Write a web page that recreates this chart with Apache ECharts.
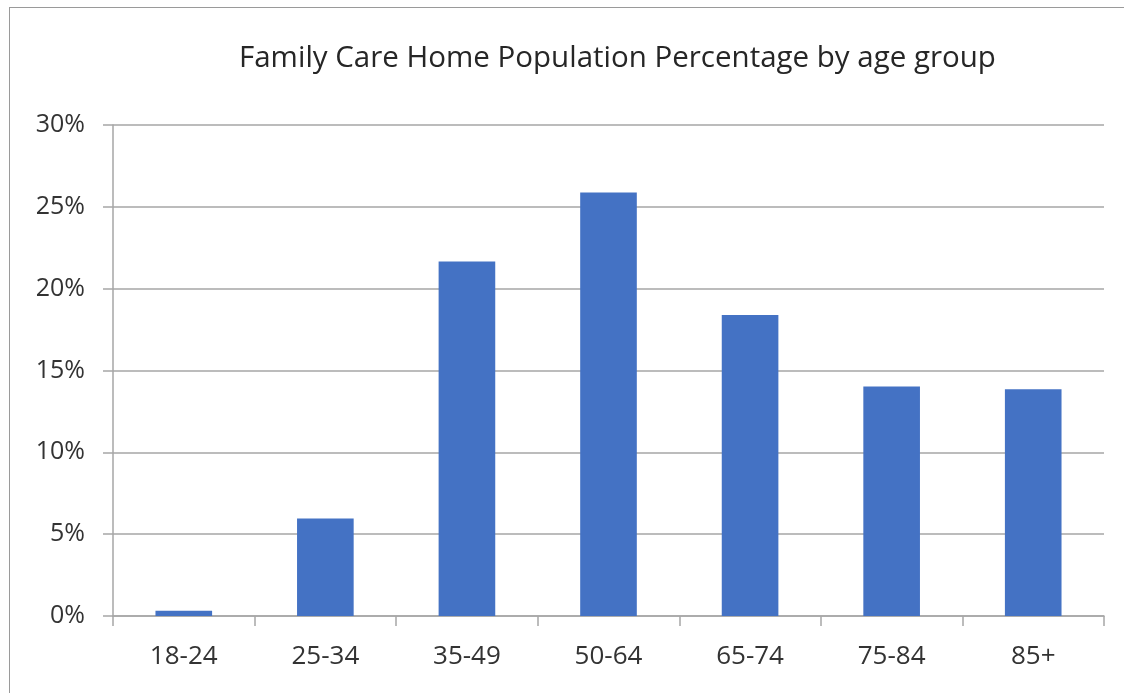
<!DOCTYPE html>
<html>
<head>
<meta charset="utf-8">
<script src="https://cdn.jsdelivr.net/npm/echarts@6/dist/echarts.min.js"></script>
<style>
  html, body { margin: 0; padding: 0; background: #fff; }
  #frame {
    position: absolute; left: 9px; top: 7px; right: 0; bottom: 0;
    border-left: 1px solid #9a9a9a; border-top: 1px solid #9a9a9a;
  }
  #chart { position: absolute; left: 0; top: 0; width: 1124px; height: 693px; }
</style>
</head>
<body>
<div id="frame"></div>
<div id="chart"></div>
<script>
const titleText = 'Family Care Home Population Percentage by age group'
const ageGroups = ['18-24', '25-34', '35-49', '50-64', '65-74', '75-84', '85+']
const percentages = [0.32, 5.96, 21.66, 25.88, 18.39, 14.02, 13.85]

const myChart = echarts.init(document.getElementById('chart'))

const option = {
  animation: false,
  title: {
    text: titleText,
    left: 234,
    top: 39,
    textStyle: {
      fontFamily: 'Open Sans',
      fontSize: 29.5,
      fontWeight: 'normal',
      color: '#262626'
    }
  },
  grid: {
    left: 113,
    right: 20,
    top: 125,
    bottom: 77
  },
  xAxis: {
    type: 'category',
    data: ageGroups,
    axisLine: { lineStyle: { color: '#a6a6a6', width: 1.5 } },
    axisTick: { show: true, length: 10, lineStyle: { color: '#a6a6a6', width: 1.5 } },
    axisLabel: {
      fontFamily: 'Open Sans',
      fontSize: 26,
      color: '#333333',
      margin: 28
    }
  },
  yAxis: {
    type: 'value',
    min: 0,
    max: 30,
    interval: 5,
    axisLine: { show: true, lineStyle: { color: '#a6a6a6', width: 1.5 } },
    axisTick: { show: true, length: 10, lineStyle: { color: '#a6a6a6', width: 1.5 } },
    splitLine: { lineStyle: { color: '#a6a6a6', width: 1.5 } },
    axisLabel: {
      fontFamily: 'Open Sans',
      fontSize: 25,
      color: '#333333',
      margin: 28,
      formatter: (value) => value + '%'
    }
  },
  series: [
    {
      type: 'bar',
      data: percentages,
      barWidth: '40%',
      itemStyle: { color: '#4472c4' }
    }
  ]
}

myChart.setOption(option)
</script>
</body>
</html>
